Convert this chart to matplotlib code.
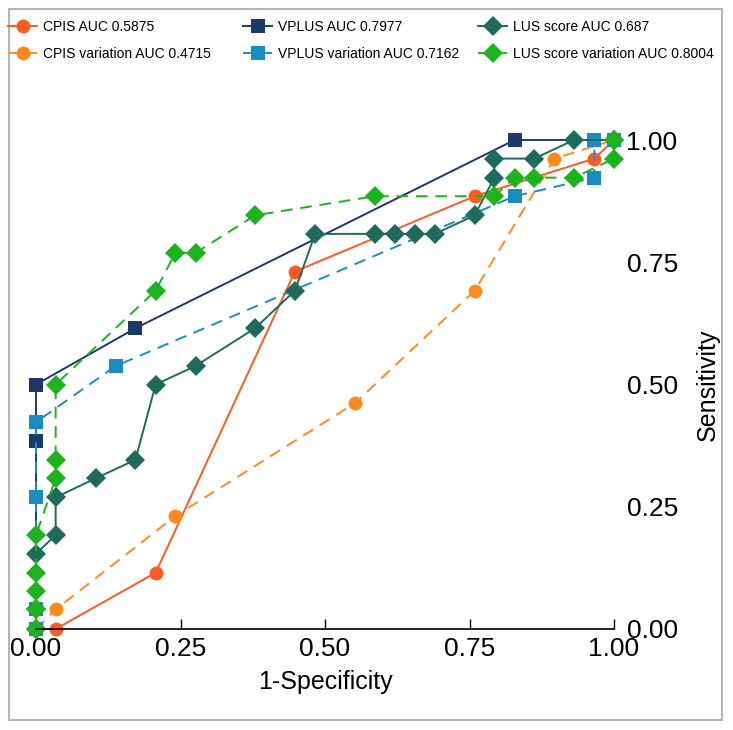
import matplotlib
matplotlib.use("Agg")
import matplotlib.pyplot as plt
from matplotlib.patches import Rectangle

plt.rcParams['font.family'] = ['Liberation Sans', 'DejaVu Sans']

# ROC points (1-specificity, sensitivity)
cpis_x = [0, 0.034, 0.207, 0.448, 0.759, 0.966, 1.0]
cpis_y = [0, 0, 0.115, 0.731, 0.885, 0.962, 1.0]

cpis_var_x = [0, 0.034, 0.241, 0.552, 0.759, 0.897, 1.0]
cpis_var_y = [0, 0.04, 0.231, 0.462, 0.692, 0.962, 1.0]

vplus_x = [0, 0, 0, 0.172, 0.828, 1.0]
vplus_y = [0, 0.385, 0.5, 0.615, 1.0, 1.0]

vplus_var_x = [0, 0, 0, 0, 0.138, 0.828, 0.966, 0.966, 1.0]
vplus_var_y = [0, 0.04, 0.269, 0.423, 0.538, 0.885, 0.923, 1.0, 1.0]

lus_x = [0, 0, 0, 0.034, 0.034, 0.103, 0.172, 0.207, 0.276, 0.379, 0.448,
         0.483, 0.586, 0.621, 0.655, 0.690, 0.759, 0.793, 0.793, 0.862, 0.931, 1.0]
lus_y = [0, 0.04, 0.154, 0.192, 0.269, 0.308, 0.346, 0.5, 0.538, 0.615, 0.692,
         0.808, 0.808, 0.808, 0.808, 0.808, 0.846, 0.923, 0.962, 0.962, 1.0, 1.0]

lus_var_x = [0, 0, 0, 0, 0, 0.034, 0.034, 0.034, 0.207, 0.241, 0.276, 0.379,
             0.586, 0.793, 0.828, 0.862, 0.931, 1.0, 1.0]
lus_var_y = [0, 0.04, 0.077, 0.115, 0.192, 0.308, 0.346, 0.5, 0.692, 0.769, 0.769,
             0.846, 0.885, 0.885, 0.923, 0.923, 0.923, 0.962, 1.0]

labels = ['CPIS AUC 0.5875', 'CPIS variation AUC 0.4715',
          'VPLUS AUC 0.7977', 'VPLUS variation AUC 0.7162',
          'LUS score AUC 0.687', 'LUS score variation AUC 0.8004']

ticks = [0, 0.25, 0.5, 0.75, 1.0]
tick_labels = ['0.00', '0.25', '0.50', '0.75', '1.00']

fig = plt.figure(figsize=(7.33, 7.30), dpi=100)
ax = fig.add_axes([36 / 733, 101 / 730, 578 / 733, 489 / 730])

dash = (0, (6, 4))
series = [
    (cpis_x, cpis_y, '#FF5A1F', 'o', '-', 10),
    (cpis_var_x, cpis_var_y, '#FF8A1C', 'o', dash, 10),
    (vplus_x, vplus_y, '#1B3A6B', 's', '-', 9.5),
    (vplus_var_x, vplus_var_y, '#1B8CC2', 's', dash, 9.5),
    (lus_x, lus_y, '#1E6B5E', 'D', '-', 10),
    (lus_var_x, lus_var_y, '#1DB31D', 'D', dash, 10),
]
handles = []
for (x, y, c, m, ls, ms), lab in zip(series, labels):
    h, = ax.plot(x, y, color=c, marker=m, linestyle=ls, lw=1.4, markersize=ms,
                 markeredgewidth=0, label=lab, clip_on=False)
    handles.append(h)

ax.set_xlim(0, 1)
ax.set_ylim(0, 1)
ax.set_xticks(ticks)
ax.set_xticklabels(tick_labels)
ax.set_yticks(ticks)
ax.set_yticklabels(tick_labels)
ax.yaxis.tick_right()
ax.yaxis.set_label_position('right')
for s in ['top', 'left', 'right']:
    ax.spines[s].set_visible(False)
ax.spines['bottom'].set_linewidth(1.2)
ax.tick_params(axis='x', direction='in', length=7, width=1, pad=6, labelsize=19)
ax.tick_params(axis='y', length=0, pad=9, labelsize=19)
ax.set_xlabel('1-Specificity', fontsize=18, labelpad=6)
ax.set_ylabel('Sensitivity', fontsize=18, labelpad=13)

# legend: three columns of two entries each
col_x = [8, 243, 478]
for i, x0 in enumerate(col_x):
    fig.legend(handles[2 * i:2 * i + 2], labels[2 * i:2 * i + 2],
               loc='upper left', bbox_to_anchor=(x0 / 733, 1 - 20 / 730),
               frameon=False, fontsize=10, handlelength=2.1,
               handletextpad=0.45, labelspacing=0.95, borderpad=0,
               borderaxespad=0)

fig.patches.append(Rectangle((9 / 733, 10 / 730), 713 / 733, 711 / 730,
                             transform=fig.transFigure, fill=False,
                             edgecolor='#B5B5BE', lw=1.5))

fig.savefig('out.png', dpi=100)
